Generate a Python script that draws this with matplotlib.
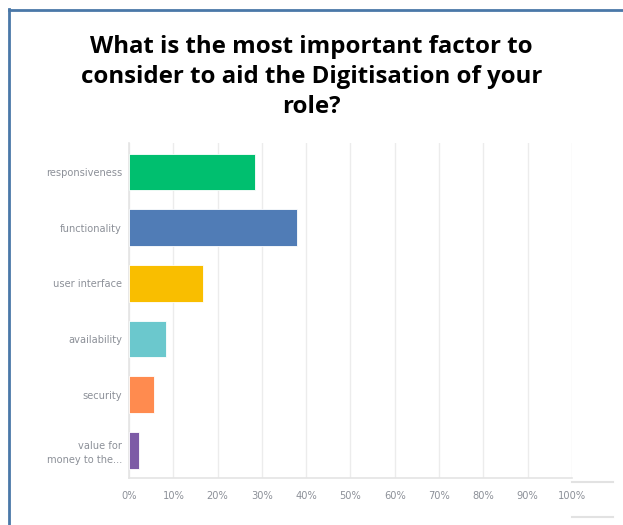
import numpy as np
import matplotlib.pyplot as plt
from matplotlib.lines import Line2D

# survey answers, top to bottom
categories = ["responsiveness", "functionality", "user interface",
              "availability", "security", "value for\nmoney to the..."]
shares = [28.4, 37.9, 16.6, 8.3, 5.7, 2.2]   # percent of respondents
colors = ["#00bf6f", "#507cb6", "#f9be00", "#6bc8cd", "#ff8b4f", "#7d5ba6"]
xticks = np.arange(0, 101, 10)
xlabels = [f"{t}%" for t in xticks]

title = "What is the most important factor to\nconsider to aid the Digitisation of your\nrole?"

fig = plt.figure(figsize=(6.23, 5.25), dpi=100)
ax = fig.add_axes([0.2071, 0.0895, 0.711, 0.638])

ypos = np.arange(len(categories))
ax.barh(ypos, shares, height=0.66, color=colors, edgecolor="white", linewidth=0.6, zorder=3)
ax.set_ylim(len(categories) - 0.5, -0.52)
ax.set_xlim(0, 100)

ax.set_xticks(xticks)
ax.set_xticklabels(xlabels)
ax.set_yticks(ypos)
ax.set_yticklabels(categories, linespacing=1.5)
ax.tick_params(axis="both", length=0, colors="#8c9098", labelsize=7.1)
ax.tick_params(axis="x", pad=9)
ax.tick_params(axis="y", pad=5)
for lab in ax.get_yticklabels():
    lab.set_horizontalalignment("right")

ax.grid(axis="x", color="#ececec", linewidth=1, zorder=0)
for side in ["top", "right"]:
    ax.spines[side].set_visible(False)
ax.spines["left"].set_color("#e4e4e4")
ax.spines["bottom"].set_color("#e4e4e4")
ax.spines["left"].set_linewidth(1.2)
ax.spines["bottom"].set_linewidth(1.2)

fig.text(0.5, 1 - 77 / 525, title, ha="center", va="center", fontsize=17.3,
         fontweight="bold", family="Open Sans", linespacing=1.32)

# slide frame
fig.add_artist(Line2D([8.5 / 623, 8.5 / 623], [0, 1 - 9 / 525], color="#4a78a8", lw=2))
fig.add_artist(Line2D([8.5 / 623, 1], [1 - 10 / 525, 1 - 10 / 525], color="#4a78a8", lw=2))
# stray table lines at bottom right
for yy in [482, 517]:
    fig.add_artist(Line2D([572 / 623, 613 / 623], [1 - yy / 525] * 2, color="#e2e2e2", lw=1.5))

fig.savefig("out.png", dpi=100)
